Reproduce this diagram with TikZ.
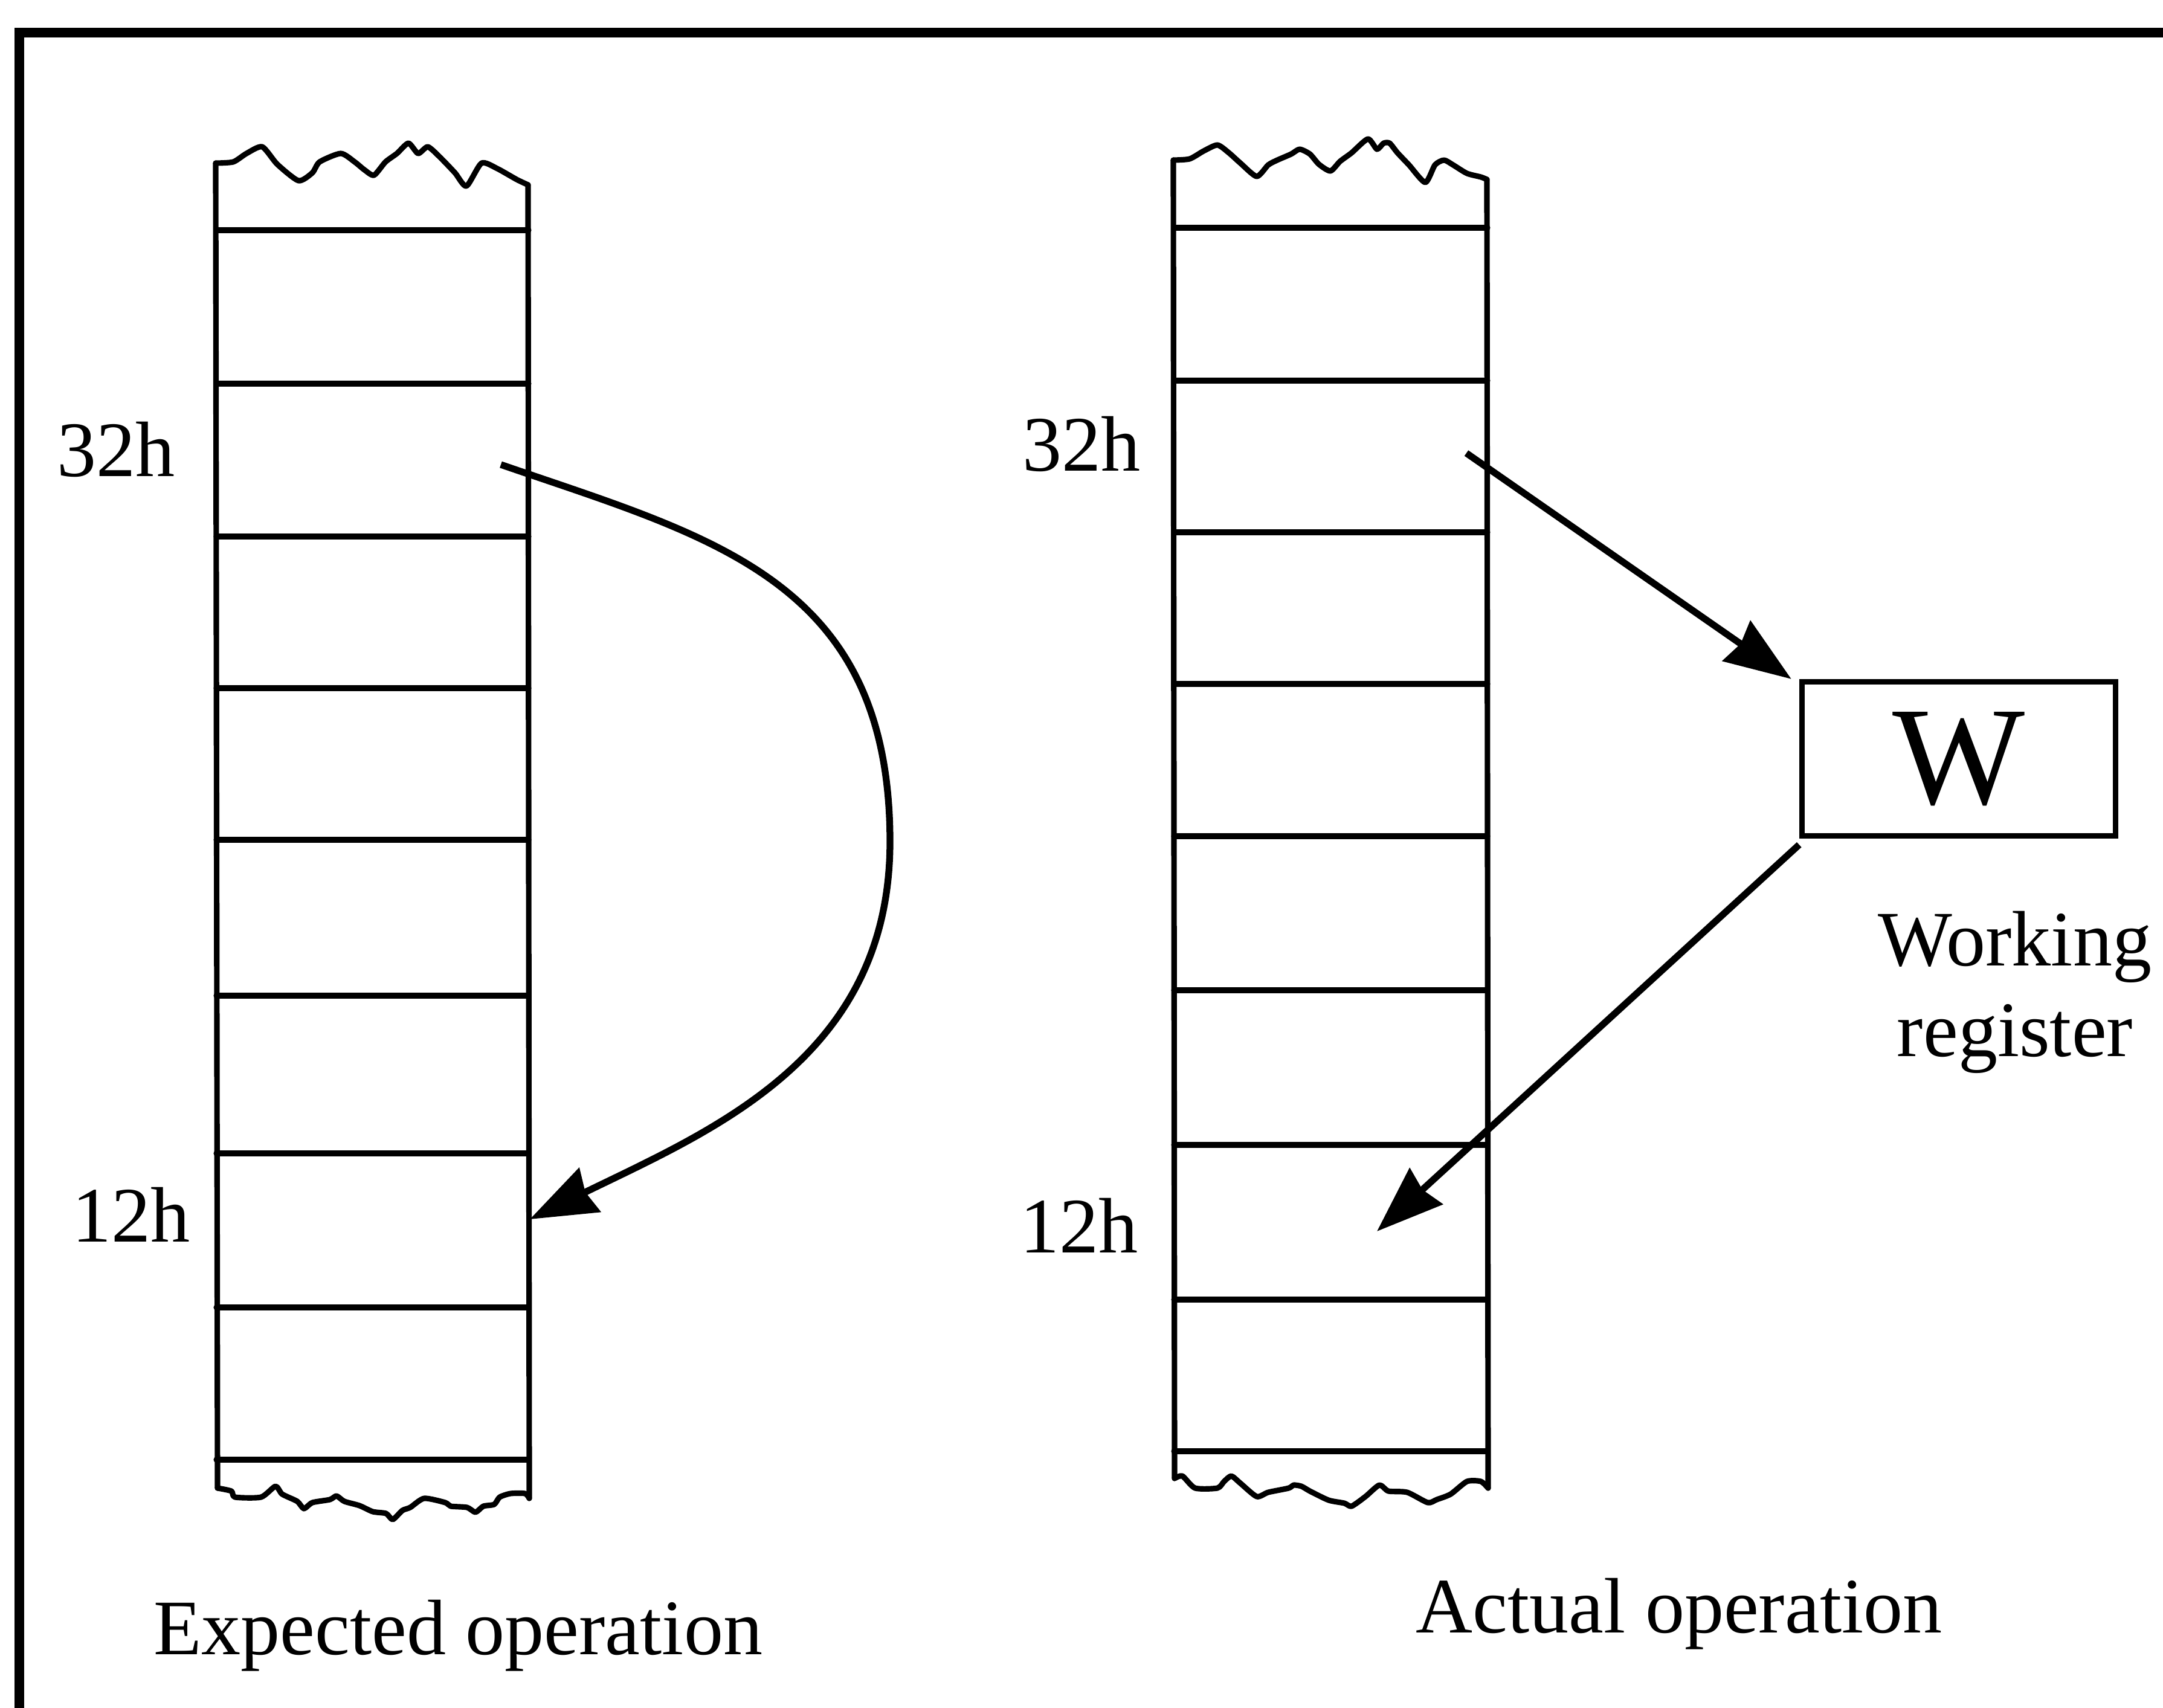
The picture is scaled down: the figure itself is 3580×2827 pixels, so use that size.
\documentclass[tikz,border=0pt]{standalone}
\usepackage{fontspec}
\setmainfont{Liberation Serif}
\usetikzlibrary{arrows.meta}
\tikzset{
  frameline/.style={line width=4.5pt, line cap=rect},
  colline/.style={line width=2.6pt, line join=round, line cap=round},
  arr/.style={line width=3.2pt, -{Stealth[length=1.1cm, width=0.8cm, inset=0.08cm]}},
  lbl/.style={font=\fontsize{37}{42.7}\selectfont, inner sep=0pt, anchor=base},
  regbox/.style={draw, line width=2.6pt, minimum width=5.19cm, minimum height=2.55cm,
    inner sep=0pt, font=\fontsize{66}{72}\selectfont},
}
\begin{document}
\begin{tikzpicture}[x=0.01cm, y=-0.01cm]
\useasboundingbox (0,0) rectangle (3580,2827);
\clip (0,0) rectangle (3580,2827);
\fill[white] (0,0) rectangle (3580,2827);

% outer frame (cut off at right and bottom)
\draw[frameline] (32,2950) -- (32,54) -- (3700,54);

% ---------- left column (expected operation) ----------
\draw[colline] plot[smooth, tension=0.4] coordinates {
  (357,270) (386,268) (408,254) (434,243) (459,272) (494,299) (517,286) (529,268)
  (564,254) (587,268) (603,281) (619,290) (638,268) (657,254) (676,237) (692,254)
  (708,243) (727,259) (753,286) (772,308) (797,270) (823,279) (855,297) (874,306)};
\draw[colline] plot[smooth, tension=0.4] coordinates {
  (360,2463) (383,2468) (389,2478) (432,2478) (456,2460) (467,2473) (492,2485)
  (503,2497) (517,2487) (546,2482) (557,2476) (570,2485) (595,2492) (617,2502)
  (639,2505) (650,2515) (666,2500) (679,2495) (702,2480) (737,2487) (746,2493)
  (773,2495) (787,2503) (800,2493) (818,2490) (827,2478) (845,2472) (869,2472) (876,2480)};
\draw[colline] (357,270) -- (360,2463);
\draw[colline] (874,306) -- (876,2480);
\foreach \y in {381,635,888,1139,1390,1648,1909,2164,2416}
  \draw[colline] (358,\y) -- (875,\y);

% ---------- right column (actual operation) ----------
\draw[colline] plot[smooth, tension=0.4] coordinates {
  (1942,265) (1969,263) (1992,250) (2015,240) (2034,253) (2053,270) (2080,292)
  (2099,273) (2114,265) (2137,255) (2151,247) (2168,255) (2183,272) (2202,283)
  (2218,267) (2237,253) (2264,230) (2279,247) (2290,237) (2300,237) (2313,253)
  (2332,273) (2359,302) (2375,273) (2390,265) (2405,273) (2428,287) (2451,293) (2461,297)};
\draw[colline] plot[smooth, tension=0.4] coordinates {
  (1944,2447) (1957,2443) (1978,2463) (2015,2463) (2026,2452) (2038,2443) (2053,2455)
  (2080,2477) (2099,2470) (2133,2463) (2141,2458) (2154,2460) (2168,2468) (2199,2483)
  (2225,2488) (2237,2493) (2260,2477) (2283,2458) (2298,2468) (2329,2470) (2363,2487)
  (2378,2482) (2401,2473) (2428,2452) (2451,2452) (2463,2463)};
\draw[colline] (1942,265) -- (1944,2447);
\draw[colline] (2461,297) -- (2463,2463);
\foreach \y in {377,630,881,1132,1384,1639,1895,2151,2402}
  \draw[colline] (1943,\y) -- (2462,\y);

% ---------- labels ----------
\node[lbl] (l32) at (192,788) {32h};
\node[lbl] (l12) at (217,2055) {12h};
\node[lbl] (r32) at (1790,779) {32h};
\node[lbl] (r12) at (1786,2073) {12h};
\node[lbl] (cap1) at (758,2738) {Expected operation};
\node[lbl] (cap2) at (2779,2702) {Actual operation};

% ---------- working register ----------
\node[regbox] (W) at (3242,1256) {W};
\node[font=\fontsize{37}{42.7}\selectfont, align=center, inner sep=0pt] (wr) at (3335,1642) {Working\\register};

% ---------- arrow end points ----------
\coordinate (src32L) at (829,769);
\coordinate (dst12L) at (877,2018);
\coordinate (src32R) at (2427,750);
\coordinate (dst12R) at (2279,2038);
\coordinate (Win) at ([xshift=-0.13cm]W.north west);
\coordinate (Wout) at ([yshift=-0.1cm]W.south west);

% ---------- arrows ----------
\draw[arr] (src32L) .. controls (1180,890) and (1473,960) .. (1473,1393)
  .. controls (1473,1750) and (1180,1870) .. (dst12L);
\draw[arr] (src32R) -- (Win);
\draw[arr] (Wout) -- (dst12R);
\end{tikzpicture}
\end{document}
